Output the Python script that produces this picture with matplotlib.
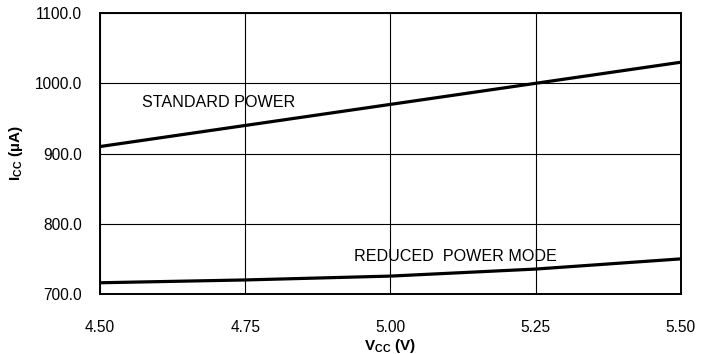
import matplotlib
matplotlib.use("Agg")
import matplotlib.pyplot as plt

plt.rcParams['font.family'] = ['Liberation Sans', 'DejaVu Sans']
plt.rcParams['mathtext.fontset'] = 'custom'
plt.rcParams['mathtext.rm'] = 'Liberation Sans'
plt.rcParams['mathtext.bf'] = 'Liberation Sans:bold'
plt.rcParams['mathtext.it'] = 'Liberation Sans:italic'

# supply voltage points and supply current for both modes
vcc = [4.50, 4.75, 5.00, 5.25, 5.50]
icc_standard = [910, 940, 970, 1000, 1030]
icc_reduced = [716, 720, 725.5, 735.5, 750]

xticks = [4.50, 4.75, 5.00, 5.25, 5.50]
yticks = [700, 800, 900, 1000, 1100]

fig = plt.figure(figsize=(7.15, 3.54), dpi=100)
ax = fig.add_axes([0.140, 0.1695, 0.812, 0.7935])

ax.plot(vcc, icc_standard, color='black', lw=2.3)
ax.plot(vcc, icc_reduced, color='black', lw=2.3)

ax.set_xlim(4.5, 5.5)
ax.set_ylim(700, 1100)
ax.set_xticks(xticks)
ax.set_xticklabels(['%.2f' % v for v in xticks])
ax.set_yticks(yticks)
ax.set_yticklabels(['%.1f' % v for v in yticks])
ax.tick_params(length=0, labelsize=11.2)
ax.tick_params(axis='x', pad=19)
ax.tick_params(axis='y', pad=13)
ax.grid(True, color='black', lw=0.8)
for s in ax.spines.values():
    s.set_linewidth(1.4)

ax.text(4.572, 972, 'STANDARD POWER', fontsize=11.6, va='center')
ax.text(4.937, 754, 'REDUCED  POWER MODE', fontsize=11.6, va='center')

ax.set_xlabel(r'$\mathbf{V_{CC}}$ (V)', fontsize=11, fontweight='bold', labelpad=1)
ax.set_ylabel(r'$\mathbf{I_{CC}}$ (µA)', fontsize=11, fontweight='bold', labelpad=7)

fig.savefig('out.png', dpi=100)
